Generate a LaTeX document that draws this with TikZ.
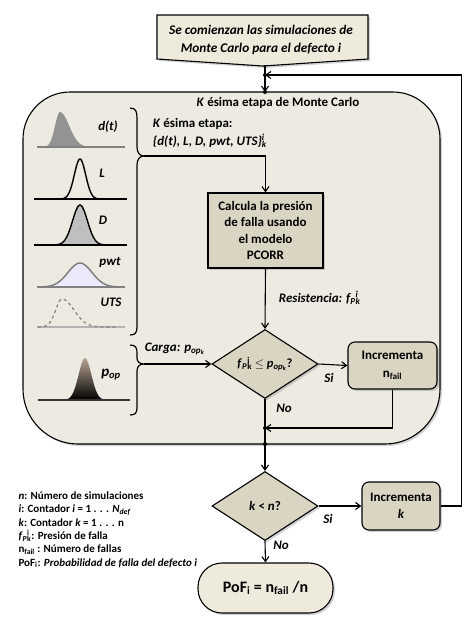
\documentclass[tikz,border=0pt]{standalone}
\usepackage{fontspec}
\setmainfont{Carlito}
\usetikzlibrary{shapes.geometric,arrows.meta,shadows,calc}
\definecolor{bigfill}{HTML}{EDEBE1}
\definecolor{nodefill}{HTML}{DAD5C3}
\definecolor{lightfill}{HTML}{EEEBDD}
\newcommand{\ik}{\rlap{\textsuperscript{i}}\textsubscript{k}}
\newcommand{\popk}{\textit{p}\textsubscript{\textit{op}\textsubscript{k}}}
\begin{document}
\begin{tikzpicture}[x=1pt,y=-1pt,line width=1.1pt,
  >={Straight Barb[length=5pt,width=7pt]},
  every node/.style={font=\fontsize{13}{16.5}\selectfont\bfseries},
  shad/.style={drop shadow={shadow xshift=2pt,shadow yshift=-2pt,opacity=.35}},
  procbox/.style={draw,fill=nodefill,shad,align=center,inner sep=2pt},
  decis/.style={draw,fill=nodefill,shad,diamond,aspect=1.54,minimum width=106pt,minimum height=69pt,inner sep=0pt},
  lbl/.style={font=\fontsize{13}{16}\selectfont\bfseries\itshape},
  dot/.style={circle,fill=black,inner sep=0pt,minimum size=4pt}]
\useasboundingbox (0,0) rectangle (474,624);

% top box
\path[draw,fill=lightfill,shad] (157,15) -- (368,15) -- (368,59) -- (263,66) -- (157,59) -- cycle;
\node[align=center,font=\fontsize{13.3}{17.5}\selectfont\bfseries\itshape] (top) at (261,40) {Se comienzan las simulaciones de\\Monte Carlo para el defecto i};
\coordinate (topb) at (265,65);

% big box
\path[draw,fill=bigfill,shad] (23,260) [rounded corners=47pt] -- (23,92) -- (440,92) [rounded corners=55pt] -- (440,444) -- (23,444) -- (23,260) -- cycle;
\coordinate (bigtop) at (265,92);
\coordinate (bigbot) at (265,444);
\node (title) at (278,103) {\textit{K} ésima etapa de Monte Carlo};

% distributions
% d(t)
\fill[gray!85] (40,147) -- plot[domain=40:60,samples=30,smooth] (\x,{147-35*exp(0-((\x-60)/7)*((\x-60)/7))}) -- plot[domain=60:110,samples=40,smooth] (\x,{147-35*exp(0-((\x-60)/13)*((\x-60)/13))}) -- cycle;
\draw[gray,line width=1.5pt] (37,147) -- (125,147);
\node[lbl] (ldt) at (108,127) {d(t)};
% L
\draw[line width=1.4pt] (34,199) -- (127,199);
\draw[line width=1.4pt] plot[domain=55:105,samples=60,smooth] (\x,{199-40*exp(0-((\x-80)/8)*((\x-80)/8))});
\node[lbl] (lL) at (102,173) {L};
% D
\fill[gray!50] plot[domain=50:110,samples=60,smooth] (\x,{245-40*exp(0-((\x-80)/10.5)*((\x-80)/10.5))}) -- cycle;
\draw[line width=1.4pt] plot[domain=50:110,samples=60,smooth] (\x,{245-40*exp(0-((\x-80)/10.5)*((\x-80)/10.5))});
\draw[line width=1.4pt] (34,245) -- (127,245);
\node[lbl] (lD) at (103,220) {D};
% pwt
\fill[gray!35!blue!10] plot[domain=38:122,samples=60,smooth] (\x,{287-24*exp(0-((\x-80)/17)*((\x-80)/17))}) -- cycle;
\draw[gray,line width=1.5pt] plot[domain=38:122,samples=60,smooth] (\x,{287-24*exp(0-((\x-80)/17)*((\x-80)/17))});
\draw[gray,line width=1.5pt] (37,287) -- (125,287);
\node[lbl] (lpwt) at (110,262) {pwt};
% UTS
\draw[gray!60,line width=1.5pt] (37,327) -- (125,327);
\draw[gray,line width=1.2pt,dashed] plot[domain=38:62,samples=30,smooth] (\x,{327-28*exp(0-((\x-62)/9)*((\x-62)/9))}) -- plot[domain=62:115,samples=40,smooth] (\x,{327-28*exp(0-((\x-62)/17)*((\x-62)/17))});
\node[lbl] (lUTS) at (111,302) {UTS};
% p_op
\shade[top color=gray!60!brown!70,bottom color=black] plot[domain=62:108,samples=60,smooth] (\x,{400-42*exp(0-((\x-85)/9)*((\x-85)/9))}) -- cycle;
\draw[black!80,line width=1.2pt] (38,400) -- (130,400);
\node[lbl] (lpop) at (111,375) {\fontsize{15}{17}\selectfont\textit{p}\textsubscript{\textit{op}}};

% braces
\draw[line width=1.2pt] (130,108) .. controls (136,108) and (137,112) .. (137,118) -- (137,147) .. controls (137,153) and (140,156) .. (144,156)
  .. controls (140,156) and (137,159) .. (137,165) -- (137,327) .. controls (137,333) and (135,335) .. (130,335);
\coordinate (b1tip) at (144,156);
\draw[line width=1.2pt] (130,345) .. controls (136,345) and (137,348) .. (137,353) -- (137,358) .. controls (137,362) and (140,364) .. (144,364)
  .. controls (140,364) and (137,366) .. (137,371) -- (137,408) .. controls (137,413) and (135,415) .. (130,415);
\coordinate (b2tip) at (144,364);

\node[lbl,anchor=west] (kst) at (149,124) {K \textup{ésima etapa:}};
\node[lbl,anchor=west] (kset) at (149,141) {\{d(t), L, D, pwt, UTS\}\ik};

% process
\node[procbox,minimum width=115pt,minimum height=75pt] (calc) at (265.5,230.5) {Calcula la presión\\de falla usando\\el modelo\\PCORR};
\node[lbl,anchor=west] (res) at (275,298) {Resistencia: \textit{f}\textsubscript{\textit{P}}\ik};

\node[decis,font=\fontsize{12.5}{15}\selectfont\bfseries] (d1) at (265,364) {\textit{f}\textsubscript{\textit{P}}\ik\ $\le$ \popk?};
\node[lbl,anchor=west] (carga) at (141,349) {Carga: \popk};

\node[procbox,rounded corners=7pt,minimum width=89pt,minimum height=47pt] (inc1) at (392.5,365.5) {Incrementa\\[1pt]n\textsubscript{fail}};
\node[lbl] (si1) at (329,378) {Si};
\node[lbl] (no1) at (284,408) {No};
\coordinate (j2) at (265,428);
\coordinate (j1) at (265,75);

\node[decis] (d2) at (265,506) {\textit{k} < \textit{n}?};
\node[procbox,rounded corners=7pt,minimum width=78pt,minimum height=48pt] (inc2) at (401,506) {Incrementa\\\textit{k}};
\node[lbl] (si2) at (328,519) {Si};
\node[lbl] (no2) at (281,545) {No};

\node[draw,fill=lightfill,shad,rounded corners=24pt,minimum width=135pt,minimum height=50pt,font=\fontsize{16}{18}\selectfont\bfseries] (pof) at (265.5,588) {PoF\textsubscript{i} = n\textsubscript{fail} /n};

% legend
\node[anchor=north west,align=left,inner sep=0pt,font=\fontsize{11}{13.4}\selectfont\bfseries] (leg) at (18,491) {%
\textit{n}: Número de simulaciones\\
\textit{i}: Contador \textit{i} = 1 . . . \textit{N}\textsubscript{\textit{def}}\\
\textit{k}: Contador \textit{k} = 1 . . . n\\
\textit{f}\textsubscript{\textit{P}}\ik: Presión de falla\\
n\textsubscript{fail} : Número de fallas\\
PoF\textsubscript{i}: \textit{Probabilidad de falla del defecto i}};

% connectors
\draw (topb) -- (j1);
\draw[->] (j1) -- (bigtop);
\draw[->] (b1tip) -| (calc.north);
\draw[->] (calc.south) -- (d1.north);
\draw[->] (b2tip) -- (d1.west);
\draw[->] (d1.east) -- (inc1.west);
\draw[->] (inc1.south) |- (j2);
\draw (d1.south) -- (j2);
\draw (j2) -- (bigbot);
\draw[->] (bigbot) -- (d2.north);
\draw[->] (d2.east) -- (inc2.west);
\draw[->] (inc2.east) -- ++(21,0) |- (j1);
\draw[->] (d2.south) -- (pof.north);
\node[dot] at (j1) {};
\node[dot] at (j2) {};
\node[dot] at (bigbot) {};
\node[dot] at (bigtop) {};
\end{tikzpicture}
\end{document}
